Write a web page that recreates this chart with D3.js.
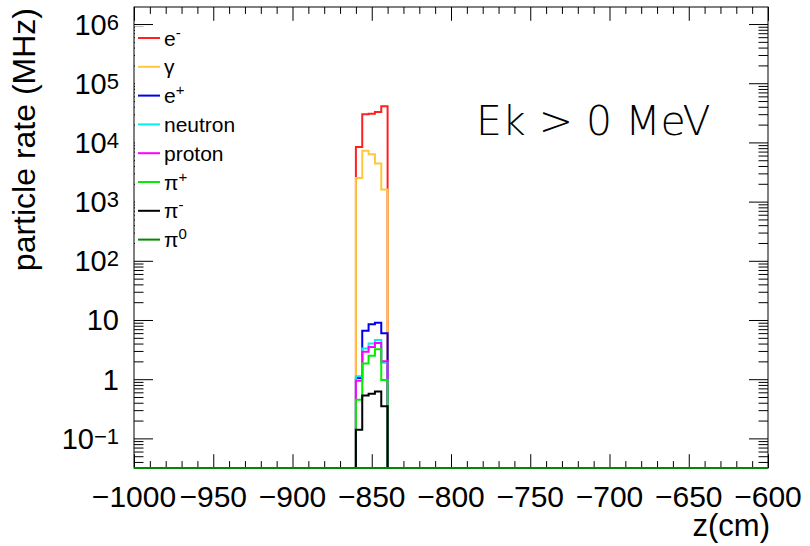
<!DOCTYPE html>
<html>
<head>
<meta charset="utf-8">
<script src="https://cdn.jsdelivr.net/npm/d3@7/dist/d3.min.js"></script>
<style>
  html, body { margin: 0; padding: 0; background: #fff; }
  svg { display: block; }
</style>
</head>
<body>
<svg id="chart" width="810" height="546"></svg>
<script>
// ---------------- data ----------------
const binEdges = [-860, -856, -852, -848, -844, -840];   // z (cm)
const eMinus   = [8400, 29800, 30500, 32500, 41000];
const gammaR   = [2500, 7200, 6300, 4400, 1600];
const ePlus    = [1.05, 6.6, 8.5, 9.0, 6.0];
const neutron  = [1.12, 3.3, 4.0, 4.6, 1.9];
const proton   = [0.94, 2.9, 3.5, 4.1, 2.0];
const piPlus   = [0.45, 1.85, 2.5, 3.2, 0.97];
const piMinus  = [0.14, 0.53, 0.57, 0.62, 0.35];
const piZero   = [0, 0, 0, 0, 0];

const seriesNames  = ["e-", "gamma", "e+", "neutron", "proton", "pi+", "pi-", "pi0"];
const seriesColors = ["#ff2020", "#ffc83a", "#0000ee", "#00f0f0", "#ff00ff", "#00ee00", "#000000", "#008800"];
const seriesValues = [eMinus, gammaR, ePlus, neutron, proton, piPlus, piMinus, piZero];
// legend label pieces: [base, superscript]
const legendLabels = [["e", "-"], ["\u03b3", ""], ["e", "+"], ["neutron", ""], ["proton", ""],
                      ["\u03c0", "+"], ["\u03c0", "-"], ["\u03c0", "0"]];

const xDomain = [-1000, -600];
const yDomain = [0.0316, 1.94e6];
const xMajorTicks = [-1000, -950, -900, -850, -800, -750, -700, -650, -600];
const xTickLabels = ["\u22121000", "\u2212950", "\u2212900", "\u2212850", "\u2212800", "\u2212750", "\u2212700", "\u2212650", "\u2212600"];
const yDecades = [1e6, 1e5, 1e4, 1e3, 1e2, 1e1, 1, 1e-1];
const yTickLabels = [["10", "6"], ["10", "5"], ["10", "4"], ["10", "3"], ["10", "2"], ["10", ""], ["1", ""], ["10", "\u22121"]];
const xTitle = "z(cm)";
const yTitle = "particle rate (MHz)";
const note = "Ek > 0 MeV";

// ---------------- layout ----------------
const L = 134, R = 768, T = 7, B = 468;
const svg = d3.select("#chart");
svg.append("rect").attr("width", 810).attr("height", 546).attr("fill", "#fff");

const x = d3.scaleLinear().domain(xDomain).range([L, R]);
const y = d3.scaleLog().domain(yDomain).range([B, T]);

const font = "'Liberation Sans', Arial, Helvetica, sans-serif";

// minor ticks
const xMinor = d3.range(xDomain[0], xDomain[1] + 0.1, 10).filter(v => !xMajorTicks.includes(v));
const yMinor = [];
for (let e = -2; e <= 6; e++) for (let k = 2; k <= 9; k++) {
  const v = k * Math.pow(10, e);
  if (v > yDomain[0] && v < yDomain[1]) yMinor.push(v);
}
const yMajor = yDecades.filter(v => v > yDomain[0] && v < yDomain[1]);

const xMajLen = 13.8, xMinLen = 6.9, yMajLen = 19, yMinLen = 9.5;

function styleAxis(g) {
  g.select(".domain").remove();
  g.selectAll("line").attr("stroke", "#000").attr("stroke-width", 1);
}
const axes = svg.append("g");
axes.append("g").attr("transform", `translate(0,${B})`)
  .call(d3.axisBottom(x).tickValues(xMajorTicks).tickSize(-xMajLen).tickFormat("")).call(styleAxis);
axes.append("g").attr("transform", `translate(0,${B})`)
  .call(d3.axisBottom(x).tickValues(xMinor).tickSize(-xMinLen).tickFormat("")).call(styleAxis);
axes.append("g").attr("transform", `translate(0,${T})`)
  .call(d3.axisTop(x).tickValues(xMajorTicks).tickSize(-xMajLen).tickFormat("")).call(styleAxis);
axes.append("g").attr("transform", `translate(0,${T})`)
  .call(d3.axisTop(x).tickValues(xMinor).tickSize(-xMinLen).tickFormat("")).call(styleAxis);
axes.append("g").attr("transform", `translate(${L},0)`)
  .call(d3.axisLeft(y).tickValues(yMajor).tickSize(-yMajLen).tickFormat("")).call(styleAxis);
axes.append("g").attr("transform", `translate(${L},0)`)
  .call(d3.axisLeft(y).tickValues(yMinor).tickSize(-yMinLen).tickFormat("")).call(styleAxis);
axes.append("g").attr("transform", `translate(${R},0)`)
  .call(d3.axisRight(y).tickValues(yMajor).tickSize(-yMajLen).tickFormat("")).call(styleAxis);
axes.append("g").attr("transform", `translate(${R},0)`)
  .call(d3.axisRight(y).tickValues(yMinor).tickSize(-yMinLen).tickFormat("")).call(styleAxis);

// frame
svg.append("rect").attr("x", L).attr("y", T).attr("width", R - L).attr("height", B - T)
  .attr("fill", "none").attr("stroke", "#000").attr("stroke-width", 1);

// x tick labels
svg.append("g").selectAll("text").data(xMajorTicks).join("text")
  .attr("x", d => x(d)).attr("y", 507)
  .attr("text-anchor", "middle").attr("font-family", font).attr("font-size", 30)
  .text((d, i) => xTickLabels[i]);

// y tick labels
const yl = svg.append("g").selectAll("text").data(yDecades).join("text")
  .attr("x", 119).attr("y", d => y(d) + 10.5)
  .attr("text-anchor", "end").attr("font-family", font).attr("font-size", 29);
yl.each(function (d, i) {
  const t = d3.select(this);
  const [base, exp] = yTickLabels[i];
  t.append("tspan").text(base);
  if (exp) t.append("tspan").attr("font-size", 22).attr("dy", -5).text(exp);
});

// axis titles
svg.append("text").attr("x", 770).attr("y", 536).attr("text-anchor", "end")
  .attr("font-family", font).attr("font-size", 31).text(xTitle);
svg.append("text").attr("transform", "translate(35,8) rotate(-90)").attr("text-anchor", "end")
  .attr("font-family", font).attr("font-size", 32).text(yTitle);

// histograms
svg.append("clipPath").attr("id", "frameClip").append("rect")
  .attr("x", L).attr("y", T - 2).attr("width", R - L).attr("height", B - T + 4);
function yc(v) { return v > yDomain[0] ? y(v) : B; }
const hg = svg.append("g").attr("clip-path", "url(#frameClip)");
seriesValues.forEach((vals, s) => {
  const pts = [[x(xDomain[0]), B], [x(binEdges[0]), B]];
  vals.forEach((v, i) => {
    pts.push([x(binEdges[i]), yc(v)]);
    pts.push([x(binEdges[i + 1]), yc(v)]);
  });
  pts.push([x(binEdges[binEdges.length - 1]), B]);
  pts.push([x(xDomain[1]), B]);
  hg.append("path").attr("d", d3.line()(pts)).attr("fill", "none")
    .attr("stroke", seriesColors[s]).attr("stroke-width", 2).attr("stroke-linejoin", "miter");
});

// legend
const lg = svg.append("g");
lg.append("rect").attr("x", L + 1).attr("y", 27).attr("width", 100).attr("height", 220).attr("fill", "#fff");
seriesNames.forEach((n, i) => {
  const yy = 38 + i * 28.8;
  lg.append("line").attr("x1", 138).attr("x2", 160).attr("y1", yy).attr("y2", yy)
    .attr("stroke", seriesColors[i]).attr("stroke-width", 2);
  const t = lg.append("text").attr("x", 164).attr("y", yy + 7.5)
    .attr("font-family", font).attr("font-size", 21);
  t.append("tspan").text(legendLabels[i][0]);
  if (legendLabels[i][1]) t.append("tspan").attr("font-size", 15).attr("dy", -8).text(legendLabels[i][1]);
});

// annotation
svg.append("text").attr("x", 476).attr("y", 135)
  .attr("font-family", "'DejaVu Sans', sans-serif").attr("font-weight", 200)
  .attr("font-size", 41).text(note);
</script>
</body>
</html>
